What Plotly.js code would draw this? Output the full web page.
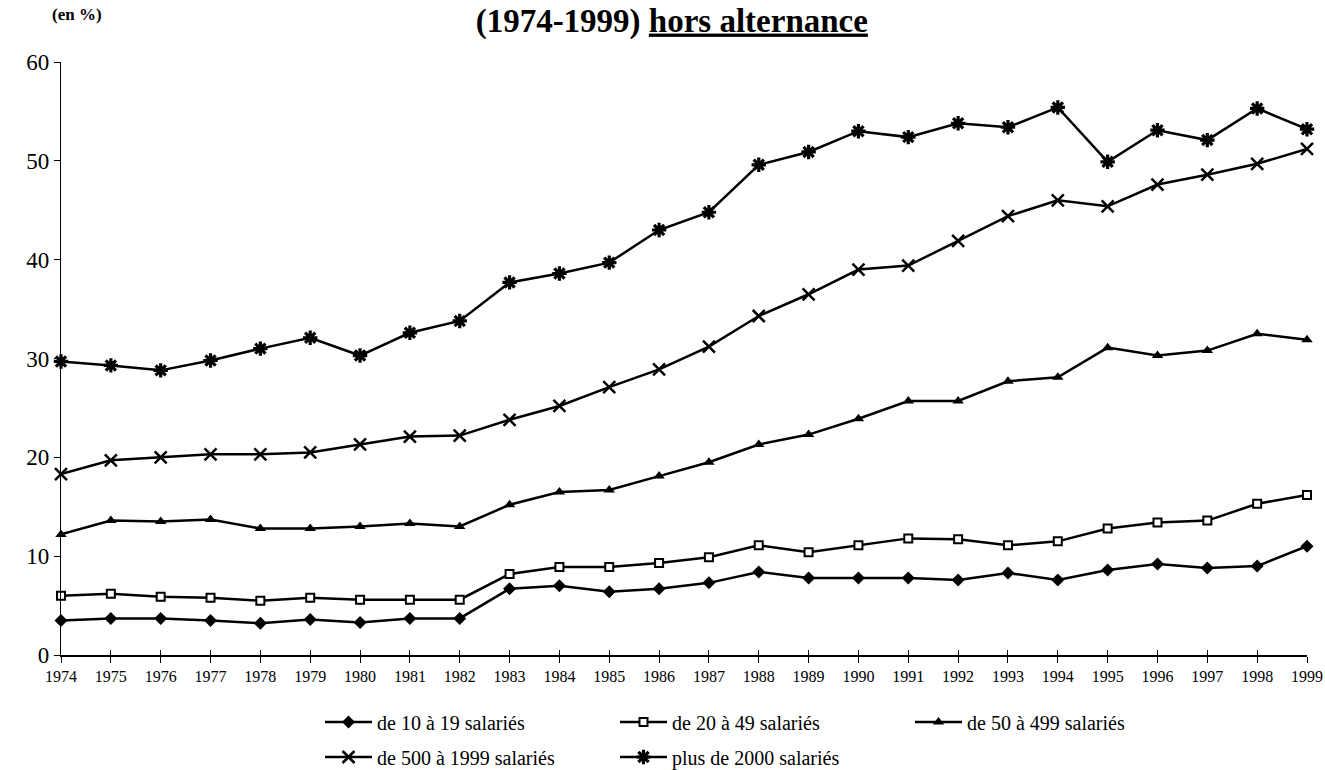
<!DOCTYPE html>
<html>
<head>
<meta charset="utf-8">
<script src="https://cdn.plot.ly/plotly-3.0.1.min.js"></script>
<style>html,body{margin:0;padding:0;background:#fff;}#chart{width:1325px;height:770px;}</style>
</head>
<body>
<div id="chart"></div>
<script>
var years = [1974,1975,1976,1977,1978,1979,1980,1981,1982,1983,1984,1985,1986,1987,1988,1989,1990,1991,1992,1993,1994,1995,1996,1997,1998,1999];
var seriesNames = ["de 10 à 19 salariés","de 20 à 49 salariés","de 50 à 499 salariés","de 500 à 1999 salariés","plus de 2000 salariés"];
var s10_19   = [3.5,3.7,3.7,3.5,3.2,3.6,3.3,3.7,3.7,6.7,7.0,6.4,6.7,7.3,8.4,7.8,7.8,7.8,7.6,8.3,7.6,8.6,9.2,8.8,9.0,11.0];
var s20_49   = [6.0,6.2,5.9,5.8,5.5,5.8,5.6,5.6,5.6,8.2,8.9,8.9,9.3,9.9,11.1,10.4,11.1,11.8,11.7,11.1,11.5,12.8,13.4,13.6,15.3,16.2];
var s50_499  = [12.2,13.6,13.5,13.7,12.8,12.8,13.0,13.3,13.0,15.2,16.5,16.7,18.1,19.5,21.3,22.3,23.9,25.7,25.7,27.7,28.1,31.1,30.3,30.8,32.5,31.9];
var s500_1999= [18.3,19.7,20.0,20.3,20.3,20.5,21.3,22.1,22.2,23.8,25.2,27.1,28.9,31.2,34.3,36.5,39.0,39.4,41.9,44.4,46.0,45.4,47.6,48.6,49.7,51.2];
var s2000    = [29.7,29.3,28.8,29.8,31.0,32.1,30.3,32.6,33.8,37.7,38.6,39.7,43.0,44.8,49.6,50.9,53.0,52.4,53.8,53.4,55.4,49.9,53.1,52.1,55.3,53.2];

var serif = "Liberation Serif, Times New Roman, serif";
var lineStyle = {color:'#000', width:2.5};

var traces = [
  {x:years, y:s10_19, name:seriesNames[0], mode:'lines+markers', line:lineStyle, cliponaxis:false,
   marker:{symbol:'diamond', size:10, color:'#000'}, legend:'legend'},
  {x:years, y:s20_49, name:seriesNames[1], mode:'lines+markers', line:lineStyle, cliponaxis:false,
   marker:{symbol:'square', size:8, color:'#fff', line:{color:'#000', width:2}}, legend:'legend'},
  {x:years, y:s50_499, name:seriesNames[2], mode:'lines+markers', line:lineStyle, cliponaxis:false,
   marker:{symbol:'triangle-up', size:10, color:'#000'}, legend:'legend'},
  {x:years, y:s500_1999, name:seriesNames[3], mode:'lines+markers', line:lineStyle, cliponaxis:false,
   marker:{symbol:'x-thin-open', size:12, color:'#000', line:{color:'#000', width:2.5}}, legend:'legend2'},
  {x:years, y:s2000, name:seriesNames[4], mode:'lines+markers', line:lineStyle, cliponaxis:false,
   marker:{symbol:'asterisk-open', size:12, color:'#000', line:{color:'#000', width:3.2}}, legend:'legend2'},
  {x:[years[0]], y:[0], xaxis:'x2', yaxis:'y', mode:'markers', marker:{opacity:0}, showlegend:false, hoverinfo:'skip'}
];

var legendCommon = {
  orientation:'h', xref:'container', yref:'container', xanchor:'left', yanchor:'middle',
  font:{family:serif, size:20, color:'#000'}, entrywidth:233, entrywidthmode:'pixels',
  itemwidth:47, bgcolor:'rgba(0,0,0,0)', borderwidth:0, tracegroupgap:0
};

var layout = {
  width:1325, height:770,
  paper_bgcolor:'#fff', plot_bgcolor:'#fff',
  margin:{l:61, r:18, t:62, b:115},
  showlegend:true,
  title:{text:'<b>(1974-1999) <u>hors alternance</u></b>', font:{family:serif, size:33, color:'#000'},
         xref:'container', x:0.507, xanchor:'center', yref:'container', y:0.974, yanchor:'middle'},
  xaxis:{range:[1974,1999], tickmode:'array', tickvals:years, ticktext:years.map(String),
         showgrid:false, zeroline:false, showline:true, linecolor:'#000', linewidth:1.5,
         ticks:'outside', ticklen:6, tickwidth:1, tickcolor:'#000',
         tickfont:{family:serif, size:16, color:'#000'}, fixedrange:true},
  xaxis2:{range:[1974,1999], overlaying:'x', anchor:'y', tickmode:'array', tickvals:years,
          showticklabels:false, showgrid:false, zeroline:false, showline:false,
          ticks:'inside', ticklen:5, tickwidth:1, tickcolor:'#000', side:'bottom'},
  yaxis:{range:[0,60], tickmode:'linear', tick0:0, dtick:10, showgrid:false, zeroline:false,
         showline:true, linecolor:'#000', linewidth:1.2, ticks:'outside', ticklen:6, tickwidth:1, tickcolor:'#000',
         tickfont:{family:serif, size:23, color:'#000'}, fixedrange:true},
  legend: Object.assign({}, legendCommon, {x:320/1325, y:1-722/770}),
  legend2: Object.assign({}, legendCommon, {x:320/1325, y:1-757/770}),
  annotations:[
    {text:'<b>(en %)</b>', xref:'paper', yref:'paper', x:(50-61)/1246, y:1+(62-14)/593,
     xanchor:'left', yanchor:'middle', showarrow:false, font:{family:serif, size:17, color:'#000'}}
  ]
};

Plotly.newPlot('chart', traces, layout, {displayModeBar:false, staticPlot:true});
</script>
</body>
</html>
